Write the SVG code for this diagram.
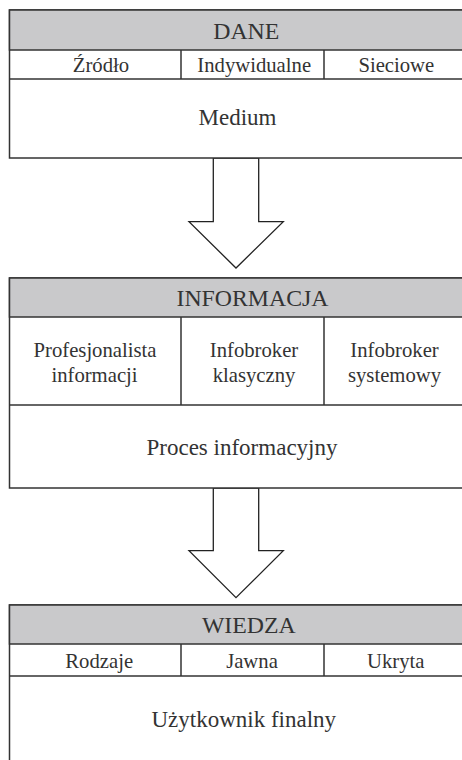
<svg xmlns="http://www.w3.org/2000/svg" width="462" height="760" viewBox="0 0 462 760">
<style>
  .frame { fill: #ffffff; stroke: #333333; stroke-width: 1.5; }
  .head { fill: #c9c9cb; stroke: #333333; stroke-width: 1.5; }
  .line { stroke: #333333; stroke-width: 1.5; fill: none; }
  .arrow { fill: #ffffff; stroke: #222222; stroke-width: 1.3; stroke-linejoin: miter; }
  .t { fill: #333333; text-anchor: middle; }
  .h { font-size: 23.8px; }
  .c { font-size: 20.7px; }
  .m { font-size: 23px; }
</style>
<rect width="462" height="760" fill="#ffffff"/>
<g id="connectors">
  <polygon class="arrow" points="213.3,158 258.7,158 258.7,221.7 283.3,221.7 236,268 189,221.7 213.3,221.7"/>
  <polygon class="arrow" points="213.3,488 258.7,488 258.7,550.7 283.3,550.7 236,597.7 189,550.7 213.3,550.7"/>
</g>
<g id="dane">
  <rect class="frame" x="9.5" y="10" width="470" height="148"/>
  <rect class="head" x="9.5" y="10" width="470" height="40"/>
  <line class="line" x1="9.5" y1="79" x2="479.5" y2="79"/>
  <line class="line" x1="181" y1="50" x2="181" y2="79"/>
  <line class="line" x1="324" y1="50" x2="324" y2="79"/>
  <g class="t" font-family="Liberation Serif, DejaVu Serif, serif">
    <text class="h" x="246.3" y="38.5">DANE</text>
    <text class="c" x="101" y="72.3">Źródło</text>
    <text class="c" x="254.2" y="72.3">Indywidualne</text>
    <text class="c" x="396.3" y="72.3">Sieciowe</text>
    <text class="m" x="237.5" y="125">Medium</text>
  </g>
</g>
<g id="informacja">
  <rect class="frame" x="9.5" y="278" width="470" height="210"/>
  <rect class="head" x="9.5" y="278" width="470" height="39"/>
  <line class="line" x1="9.5" y1="405" x2="479.5" y2="405"/>
  <line class="line" x1="181" y1="317" x2="181" y2="405"/>
  <line class="line" x1="324" y1="317" x2="324" y2="405"/>
  <g class="t" font-family="Liberation Serif, DejaVu Serif, serif">
    <text class="h" x="252.5" y="305.7">INFORMACJA</text>
    <text class="c" x="95" y="357.3">Profesjonalista</text>
    <text class="c" x="94.5" y="381.5">informacji</text>
    <text class="c" x="254" y="357.3">Infobroker</text>
    <text class="c" x="254" y="381.5">klasyczny</text>
    <text class="c" x="394.5" y="357.3">Infobroker</text>
    <text class="c" x="394.5" y="381.5">systemowy</text>
    <text class="m" x="242" y="455.3">Proces informacyjny</text>
  </g>
</g>
<g id="wiedza">
  <rect class="frame" x="9.5" y="605" width="470" height="200"/>
  <rect class="head" x="9.5" y="605" width="470" height="39"/>
  <line class="line" x1="9.5" y1="676" x2="479.5" y2="676"/>
  <line class="line" x1="181" y1="644" x2="181" y2="676"/>
  <line class="line" x1="324" y1="644" x2="324" y2="676"/>
  <g class="t" font-family="Liberation Serif, DejaVu Serif, serif">
    <text class="h" x="248.8" y="633.3">WIEDZA</text>
    <text class="c" x="99.2" y="667.7">Rodzaje</text>
    <text class="c" x="252" y="667.7">Jawna</text>
    <text class="c" x="395.8" y="667.7">Ukryta</text>
    <text class="m" x="243.8" y="726.7">Użytkownik finalny</text>
  </g>
</g>
</svg>
